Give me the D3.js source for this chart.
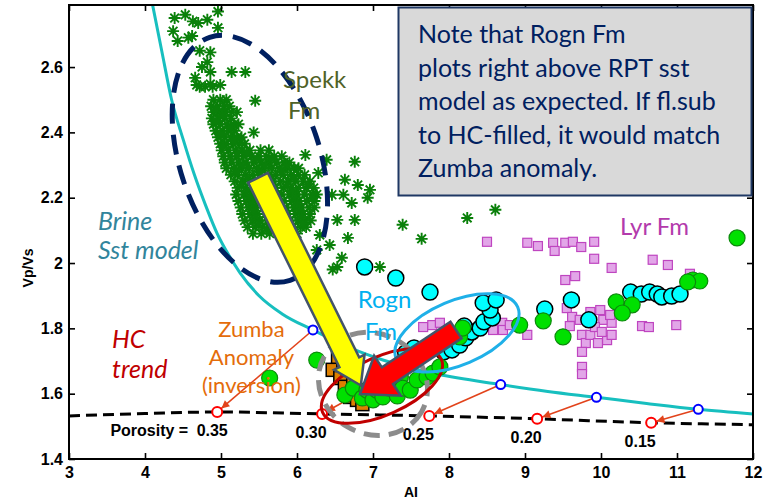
<!DOCTYPE html>
<html><head><meta charset="utf-8">
<script src="https://cdn.jsdelivr.net/npm/d3@7"></script>
<style>body{margin:0;background:#fff}svg{display:block}</style>
</head><body>
<svg id="chart" width="771" height="502"></svg>
<script>
// Axis ticks
const xTicks = [3, 4, 5, 6, 7, 8, 9, 10, 11, 12];
const yTicks = [1.4, 1.6, 1.8, 2.0, 2.2, 2.4, 2.6];

// Rock-physics template: brine sandstone model and HC trend
const brineAI   = [4.10, 4.22, 4.35, 4.50, 4.65, 4.80, 4.95, 5.10, 5.25, 5.50, 5.80, 6.21, 6.70, 7.13, 7.84, 8.68, 9.30, 9.94, 10.60, 11.28, 12.00];
const brineVpVs = [2.79, 2.65, 2.50, 2.38, 2.27, 2.175, 2.09, 2.025, 1.970, 1.900, 1.845, 1.795, 1.740, 1.703, 1.660, 1.628, 1.607, 1.589, 1.570, 1.552, 1.538];
const hcAI   = [3.0, 4.0, 4.95, 6.33, 7.74, 9.16, 10.66, 12.0];
const hcVpVs = [1.532, 1.539, 1.544, 1.538, 1.532, 1.523, 1.511, 1.505];

// Porosity points: brine (blue) -> HC (red)
const porosity     = ["0.35", "0.30", "0.25", "0.20", "0.15"];
const porBrineAI   = [6.21, 7.45, 8.68, 9.94, 11.28];
const porBrineVpVs = [1.795, 1.683, 1.628, 1.589, 1.552];
const porHcAI      = [4.95, 6.33, 7.74, 9.16, 10.66];
const porHcVpVs    = [1.544, 1.538, 1.532, 1.523, 1.511];

// Spekk Fm (AI, Vp/Vs)
const spekk = [
 [4.39,2.75],[4.53,2.76],[4.63,2.74],[4.70,2.735],[4.82,2.745],[4.96,2.77],[4.96,2.72],[4.37,2.71],[4.43,2.68],
 [4.57,2.69],[4.62,2.695],[4.72,2.65],[4.86,2.645],[4.82,2.615],[4.75,2.60],[4.86,2.585],[4.66,2.567],[4.72,2.54],
 [4.68,2.545],[4.79,2.54],[4.89,2.54],[4.99,2.545],[4.86,2.548],[5.14,2.585],[5.32,2.585],[5.45,2.497],[5.43,2.40],
 [6.11,2.331],[6.39,2.316],[6.28,2.276],[6.63,2.255],[6.61,2.209],[6.46,2.209],[6.53,2.132],[6.76,2.31],[6.80,2.239],
 [6.96,2.224],[6.93,2.20],[6.72,2.184],[6.76,2.132],[6.67,2.077],[6.59,2.016],[6.53,1.988],[6.47,1.98],[6.26,2.04],
 [7.09,1.988],[7.39,2.117],[7.64,2.074],[8.24,2.138],[8.61,2.163],[6.43,2.055],[6.30,2.086],
 [4.90,2.50],[4.99,2.50],[5.07,2.50],
 [4.87,2.48],[4.95,2.48],[5.04,2.48],[5.11,2.48],
 [4.90,2.462],[4.98,2.462],[5.06,2.462],[5.14,2.462],[5.21,2.462],
 [4.88,2.443],[4.96,2.443],[5.05,2.443],[5.13,2.443],
 [4.90,2.425],[4.99,2.425],[5.08,2.425],[5.17,2.425],[5.23,2.425],
 [4.93,2.405],[5.02,2.405],[5.10,2.405],[5.18,2.405],
 [4.96,2.385],[5.05,2.385],[5.13,2.385],[5.21,2.385],[5.27,2.385],
 [4.99,2.365],[5.07,2.365],[5.16,2.365],[5.24,2.365],[5.31,2.365],
 [5.01,2.345],[5.10,2.345],[5.19,2.345],[5.28,2.345],[5.38,2.345],[5.52,2.345],[5.63,2.345],
 [5.03,2.327],[5.12,2.327],[5.21,2.327],[5.30,2.327],[5.40,2.327],[5.50,2.327],[5.60,2.327],[5.70,2.327],[5.80,2.327],
 [5.05,2.308],[5.14,2.308],[5.23,2.308],[5.33,2.308],[5.43,2.308],[5.53,2.308],[5.63,2.308],[5.73,2.308],[5.83,2.308],[5.90,2.308],
 [5.07,2.29],[5.17,2.29],[5.27,2.29],[5.37,2.29],[5.47,2.29],[5.57,2.29],[5.67,2.29],[5.77,2.29],[5.87,2.29],[5.96,2.29],[6.02,2.29],
 [5.13,2.27],[5.22,2.27],[5.32,2.27],[5.42,2.27],[5.52,2.27],[5.62,2.27],[5.72,2.27],[5.82,2.27],[5.92,2.27],[6.02,2.27],[6.10,2.27],
 [5.18,2.25],[5.28,2.25],[5.38,2.25],[5.48,2.25],[5.58,2.25],[5.68,2.25],[5.78,2.25],[5.88,2.25],[5.98,2.25],[6.08,2.25],[6.17,2.25],
 [5.22,2.23],[5.32,2.23],[5.42,2.23],[5.52,2.23],[5.62,2.23],[5.72,2.23],[5.82,2.23],[5.92,2.23],[6.02,2.23],[6.12,2.23],[6.22,2.23],
 [5.20,2.21],[5.30,2.21],[5.40,2.21],[5.50,2.21],[5.60,2.21],[5.70,2.21],[5.80,2.21],[5.90,2.21],[6.00,2.21],[6.10,2.21],[6.20,2.21],[6.26,2.21],
 [5.23,2.19],[5.33,2.19],[5.43,2.19],[5.53,2.19],[5.63,2.19],[5.73,2.19],[5.83,2.19],[5.93,2.19],[6.03,2.19],[6.13,2.19],[6.23,2.19],
 [5.26,2.17],[5.36,2.17],[5.46,2.17],[5.56,2.17],[5.66,2.17],[5.76,2.17],[5.86,2.17],[5.96,2.17],[6.06,2.17],[6.16,2.17],[6.23,2.17],
 [5.28,2.15],[5.38,2.15],[5.48,2.15],[5.58,2.15],[5.68,2.15],[5.78,2.15],[5.88,2.15],[5.98,2.15],[6.08,2.15],[6.17,2.15],
 [5.31,2.13],[5.41,2.13],[5.51,2.13],[5.61,2.13],[5.71,2.13],[5.81,2.13],[5.91,2.13],[6.01,2.13],[6.11,2.13],[6.18,2.13],
 [5.35,2.11],[5.45,2.11],[5.55,2.11],[5.65,2.11],[5.75,2.11],[5.85,2.11],[5.95,2.11],[6.05,2.11],[6.12,2.11],
 [5.42,2.09],[5.53,2.09],[5.64,2.09],[5.76,2.09],[5.88,2.09],[6.00,2.09],
 [4.94,2.47],[5.02,2.452],[4.94,2.434],[5.13,2.415],[5.00,2.395],[5.17,2.375],[5.03,2.355],[5.22,2.336],
 [5.34,2.336],[5.47,2.318],[5.66,2.318],[5.28,2.298],[5.58,2.298],[5.86,2.298],[5.20,2.28],[5.50,2.28],[5.80,2.28],
 [5.35,2.26],[5.65,2.26],[5.95,2.26],[5.27,2.24],[5.57,2.24],[5.87,2.24],[6.15,2.24],[5.35,2.22],[5.65,2.22],
 [5.95,2.22],[5.38,2.20],[5.68,2.20],[5.98,2.20],[6.20,2.20],[5.41,2.18],[5.71,2.18],[6.01,2.18],[5.43,2.16],
 [5.73,2.16],[6.03,2.16],[5.46,2.14],[5.76,2.14],[6.06,2.14],[5.50,2.12],[5.80,2.12],[6.08,2.12],[5.60,2.10],[5.90,2.10]
];

// Lyr Fm
const lyr = [
 [8.50,2.065],[9.03,2.062],[9.17,2.052],[9.37,2.062],[9.39,2.037],[9.53,2.062],[9.63,2.065],[9.74,2.049],[9.91,2.065],
 [9.91,2.013],[10.14,1.985],[10.68,2.010],[10.88,1.994],[9.53,1.948],[9.66,1.960],[11.17,1.967],[9.55,1.862],[9.62,1.835],
 [9.59,1.807],[9.72,1.826],[9.75,1.780],[9.80,1.755],[9.75,1.728],[9.75,1.682],[9.75,1.660],[9.86,1.850],[9.99,1.856],
 [10.03,1.826],[10.14,1.817],[10.12,1.841],[9.86,1.780],[9.96,1.755],[10.08,1.764],[10.14,1.780],[9.92,1.804],[10.01,1.789],
 [10.54,1.807],[10.63,1.804],[10.99,1.810],[9.03,1.780],[8.70,1.817],[7.66,1.804],[7.78,1.810],[7.88,1.817],[8.58,1.795],
 [8.71,1.795],[8.80,1.810]
];

// Rogn Fm
const rogn = [
 [6.89,1.988],[7.30,1.954],[7.75,1.911],
 [7.43,1.725],[7.54,1.740],[7.67,1.728],[7.80,1.740],[7.93,1.728],[8.04,1.734],[8.14,1.749],[8.22,1.771],[8.30,1.789],
 [8.41,1.801],[8.46,1.820],[8.57,1.832],[8.54,1.856],[8.45,1.878],[8.62,1.887],[8.20,1.807],
 [9.26,1.859],[9.61,1.887],[9.84,1.826],[10.39,1.911],[10.53,1.905],[10.64,1.911],[10.74,1.905],[10.80,1.896],
 [10.93,1.899],[11.04,1.905]
];

// Zumba well (anomaly)
const zumba = [
 [6.54,1.712],[6.47,1.673],[6.57,1.648],[6.63,1.621],[6.61,1.694],[6.74,1.633],[6.70,1.590],[6.79,1.581],[6.86,1.568],
 [6.92,1.611],[6.67,1.673]
];

// Other well data (green)
const greenPts = [
 [11.79,2.077],[11.21,1.948],[11.30,1.945],[11.14,1.942],[10.20,1.881],[10.41,1.872],[10.28,1.847],
 [8.93,1.810],[9.24,1.823],[9.50,1.774],[5.64,1.648],[6.26,1.703],
 [6.63,1.596],[6.74,1.617],[6.86,1.587],[6.92,1.611],[7.00,1.581],[7.05,1.611],[7.13,1.590],[7.22,1.617],[7.32,1.593],
 [7.36,1.651],[7.39,1.617],[7.49,1.611],[7.58,1.642],[7.71,1.651],[7.79,1.663],[7.88,1.682],[8.14,1.774],[8.18,1.801]
];

const svg = d3.select("#chart");
const x = d3.scaleLinear().domain([3, 12]).range([69, 753]);
const y = d3.scaleLinear().domain([1.4, 2.79]).range([459, 5]);

const axisFont = "'Liberation Sans', Arial, sans-serif";
const labelFont = "Lato, 'Open Sans', sans-serif";

// --- curves -----------------------------------------------------------
const line = d3.line().x(d => x(d[0])).y(d => y(d[1])).curve(d3.curveMonotoneX);

svg.append("path").datum(hcAI.map((a, i) => [a, hcVpVs[i]]))
  .attr("d", line).attr("fill", "none").attr("stroke", "#000")
  .attr("stroke-width", 3).attr("stroke-dasharray", "11,6");

svg.append("path").datum(brineAI.map((a, i) => [a, brineVpVs[i]]))
  .attr("d", line).attr("fill", "none").attr("stroke", "#17bfbf").attr("stroke-width", 3);

// porosity arrows brine -> HC
const defs = svg.append("defs");
defs.append("marker").attr("id", "ah").attr("viewBox", "0 0 10 10")
  .attr("refX", 10).attr("refY", 5).attr("markerWidth", 9).attr("markerHeight", 8)
  .attr("markerUnits", "userSpaceOnUse").attr("orient", "auto")
  .append("path").attr("d", "M0,0L10,5L0,10z").attr("fill", "#e2431b");

porosity.forEach((p, i) => {
  const x0 = x(porBrineAI[i]), y0 = y(porBrineVpVs[i]);
  const x1 = x(porHcAI[i]), y1 = y(porHcVpVs[i]);
  const L = Math.hypot(x1 - x0, y1 - y0);
  const ex = x1 - (x1 - x0) / L * 5.5, ey = y1 - (y1 - y0) / L * 5.5;
  svg.append("line").attr("x1", x0).attr("y1", y0).attr("x2", ex).attr("y2", ey)
    .attr("stroke", "#e2431b").attr("stroke-width", 1.6).attr("marker-end", "url(#ah)");
});
svg.selectAll("circle.pb").data(porBrineAI).join("circle").attr("class", "pb")
  .attr("cx", d => x(d)).attr("cy", (d, i) => y(porBrineVpVs[i])).attr("r", 4.5)
  .attr("fill", "#fff").attr("stroke", "#0000ff").attr("stroke-width", 2);
svg.selectAll("circle.ph").data(porHcAI).join("circle").attr("class", "ph")
  .attr("cx", d => x(d)).attr("cy", (d, i) => y(porHcVpVs[i])).attr("r", 5)
  .attr("fill", "#fff").attr("stroke", "#ff0000").attr("stroke-width", 2);

// porosity labels
const porLab = svg.append("g").attr("font-family", axisFont).attr("font-weight", "bold")
  .attr("font-size", 16).attr("fill", "#000").attr("text-anchor", "middle");
porosity.forEach((p, i) => {
  porLab.append("text").attr("x", x(porHcAI[i]) - (i === 0 ? 5 : 11)).attr("y", y(porHcVpVs[i]) + 24).text(p);
});
porLab.append("text").attr("text-anchor", "end")
  .attr("x", x(porHcAI[0]) - 29).attr("y", y(porHcVpVs[0]) + 24).text("Porosity =");

// --- data markers -------------------------------------------------------
svg.append("g").selectAll("rect").data(lyr).join("rect")
  .attr("x", d => x(d[0]) - 4.5).attr("y", d => y(d[1]) - 4.5).attr("width", 9).attr("height", 9)
  .attr("fill", "#e2a6e8").attr("stroke", "#bf45c0").attr("stroke-width", 1.2);

const r = 6, a = r * 0.72;
const star = `M${-r},0L${r},0M0,${-r}L0,${r}M${-a},${-a}L${a},${a}M${-a},${a}L${a},${-a}`;
svg.append("g").selectAll("path").data(spekk).join("path")
  .attr("transform", d => `translate(${x(d[0])},${y(d[1])})`).attr("d", star)
  .attr("fill", "none").attr("stroke", "#0a800a").attr("stroke-width", 1.9);

svg.append("g").selectAll("circle").data(rogn).join("circle")
  .attr("cx", d => x(d[0])).attr("cy", d => y(d[1])).attr("r", 8)
  .attr("fill", "#00ffff").attr("stroke", "#000").attr("stroke-width", 1.5);

svg.append("g").selectAll("rect").data(zumba).join("rect")
  .attr("x", d => x(d[0]) - 6.5).attr("y", d => y(d[1]) - 6.5).attr("width", 13).attr("height", 13)
  .attr("fill", "#dd8000").attr("stroke", "#000").attr("stroke-width", 1.5);

svg.append("g").selectAll("circle").data(greenPts).join("circle")
  .attr("cx", d => x(d[0])).attr("cy", d => y(d[1])).attr("r", 8)
  .attr("fill", "#00e000").attr("stroke", "#0b8a0b").attr("stroke-width", 1.2);

// --- axes ---------------------------------------------------------------
const styleAxis = g => {
  g.select(".domain").remove();
  g.selectAll(".tick line").attr("stroke", "#000").attr("stroke-width", 1.6);
  g.selectAll(".tick text").attr("font-family", axisFont).attr("font-weight", "bold")
    .attr("font-size", 16).attr("fill", "#000");
};
svg.append("g").attr("transform", "translate(0,459)")
  .call(d3.axisBottom(x).tickValues(xTicks).tickSize(-6).tickSizeOuter(0).tickPadding(8).tickFormat(d3.format("d")))
  .call(styleAxis);
svg.append("g").attr("transform", "translate(69,0)")
  .call(d3.axisLeft(y).tickValues(yTicks).tickSize(-6).tickSizeOuter(0).tickPadding(6).tickFormat(d => d === 2 ? "2" : d3.format(".1f")(d)))
  .call(styleAxis);
svg.append("g").attr("transform", "translate(0,5)")
  .call(d3.axisTop(x).tickValues(xTicks).tickSize(-6).tickSizeOuter(0).tickFormat(""))
  .call(styleAxis);
svg.append("g").attr("transform", "translate(753,0)")
  .call(d3.axisRight(y).tickValues(yTicks).tickSize(-6).tickSizeOuter(0).tickFormat(""))
  .call(styleAxis);
svg.append("rect").attr("x", 69).attr("y", 5).attr("width", 684).attr("height", 454)
  .attr("fill", "none").attr("stroke", "#000").attr("stroke-width", 2);

svg.append("text").attr("x", 411).attr("y", 497).attr("text-anchor", "middle")
  .attr("font-family", axisFont).attr("font-weight", "bold").attr("font-size", 14).text("AI");
svg.append("text").attr("transform", "translate(33,268) rotate(-90)").attr("text-anchor", "middle")
  .attr("font-family", axisFont).attr("font-weight", "bold").attr("font-size", 14).text("Vp/Vs");

// --- interpretation overlays ------------------------------------------------
const ell = (cx, cy, rx, ry, ang) => svg.append("ellipse")
  .attr("cx", x(cx)).attr("cy", y(cy)).attr("rx", rx).attr("ry", ry)
  .attr("transform", `rotate(${ang},${x(cx)},${y(cy)})`).attr("fill", "none");

ell(7.0, 1.630, 56, 50, 30).attr("stroke", "#8c8c8c").attr("stroke-width", 5).attr("stroke-dasharray", "16,9");
ell(7.118, 1.624, 65, 29, -24).attr("stroke", "#c00000").attr("stroke-width", 3);
ell(8.105, 1.786, 66, 32, -23).attr("stroke", "#1fb0e8").attr("stroke-width", 3);
ell(5.38, 2.319, 128, 70, 71.7).attr("stroke", "#002060").attr("stroke-width", 5).attr("stroke-dasharray", "20,11");

const arrowPoly = (x0, y0, x1, y1, sw, hw, hl) => {
  const dx = x1 - x0, dy = y1 - y0, L = Math.hypot(dx, dy), ux = dx / L, uy = dy / L, px = -uy, py = ux;
  const bx = x1 - ux * hl, by = y1 - uy * hl;
  return [[x0 + px * sw, y0 + py * sw], [bx + px * sw, by + py * sw], [bx + px * hw, by + py * hw], [x1, y1],
          [bx - px * hw, by - py * hw], [bx - px * sw, by - py * sw], [x0 - px * sw, y0 - py * sw]]
    .map(p => p.join(",")).join(" ");
};
svg.append("polygon").attr("points", arrowPoly(x(5.487), y(2.261), x(6.84), y(1.625), 11, 17, 26))
  .attr("fill", "#ffff00").attr("stroke", "#44546a").attr("stroke-width", 2.5).attr("stroke-linejoin", "miter");
svg.append("polygon").attr("points", arrowPoly(x(8.092), y(1.795), x(6.829), y(1.599), 10, 24, 33))
  .attr("fill", "#ff0000").attr("stroke", "#44546a").attr("stroke-width", 2.5).attr("stroke-linejoin", "miter");

// --- labels -------------------------------------------------------------
const label = (txt, ax, vv, color, size, style, anchor) => svg.append("text")
  .attr("x", x(ax)).attr("y", y(vv)).attr("fill", color).attr("font-family", labelFont)
  .attr("font-size", size).attr("font-style", style || "normal").attr("text-anchor", anchor || "start").text(txt);

label("Brine", 3.38, 2.101, "#31859c", 25, "italic");
label("Sst model", 3.38, 2.012, "#31859c", 25, "italic");
label("HC", 3.566, 1.740, "#c00000", 25, "italic");
label("trend", 3.566, 1.648, "#c00000", 25, "italic");
label("Zumba", 5.40, 1.774, "#e46c0a", 22, "normal", "middle");
label("Anomaly", 5.40, 1.688, "#e46c0a", 22, "normal", "middle");
label("(inversion)", 5.40, 1.602, "#e46c0a", 22, "normal", "middle");
label("Spekk", 5.816, 2.536, "#4f6228", 24);
label("Fm", 5.88, 2.441, "#4f6228", 24);
label("Rogn", 6.80, 1.862, "#00b0f0", 24);
label("Fm", 6.89, 1.764, "#00b0f0", 24);
label("Lyr Fm", 10.25, 2.086, "#b33aac", 24);

// --- note box -----------------------------------------------------------
const noteLines = ["Note that Rogn Fm", "plots right above RPT sst", "model as expected. If fl.sub",
                   "to HC-filled, it would match", "Zumba anomaly."];
svg.append("rect").attr("x", 398.5).attr("y", 7.5).attr("width", 353).attr("height", 188)
  .attr("fill", "#d9d9d9").attr("stroke", "#1f3864").attr("stroke-width", 2);
svg.append("g").selectAll("text").data(noteLines).join("text")
  .attr("x", 418).attr("y", (d, i) => 43 + i * 33.5)
  .attr("font-family", labelFont).attr("font-size", 25).attr("fill", "#002060").text(d => d);
</script>
</body></html>
